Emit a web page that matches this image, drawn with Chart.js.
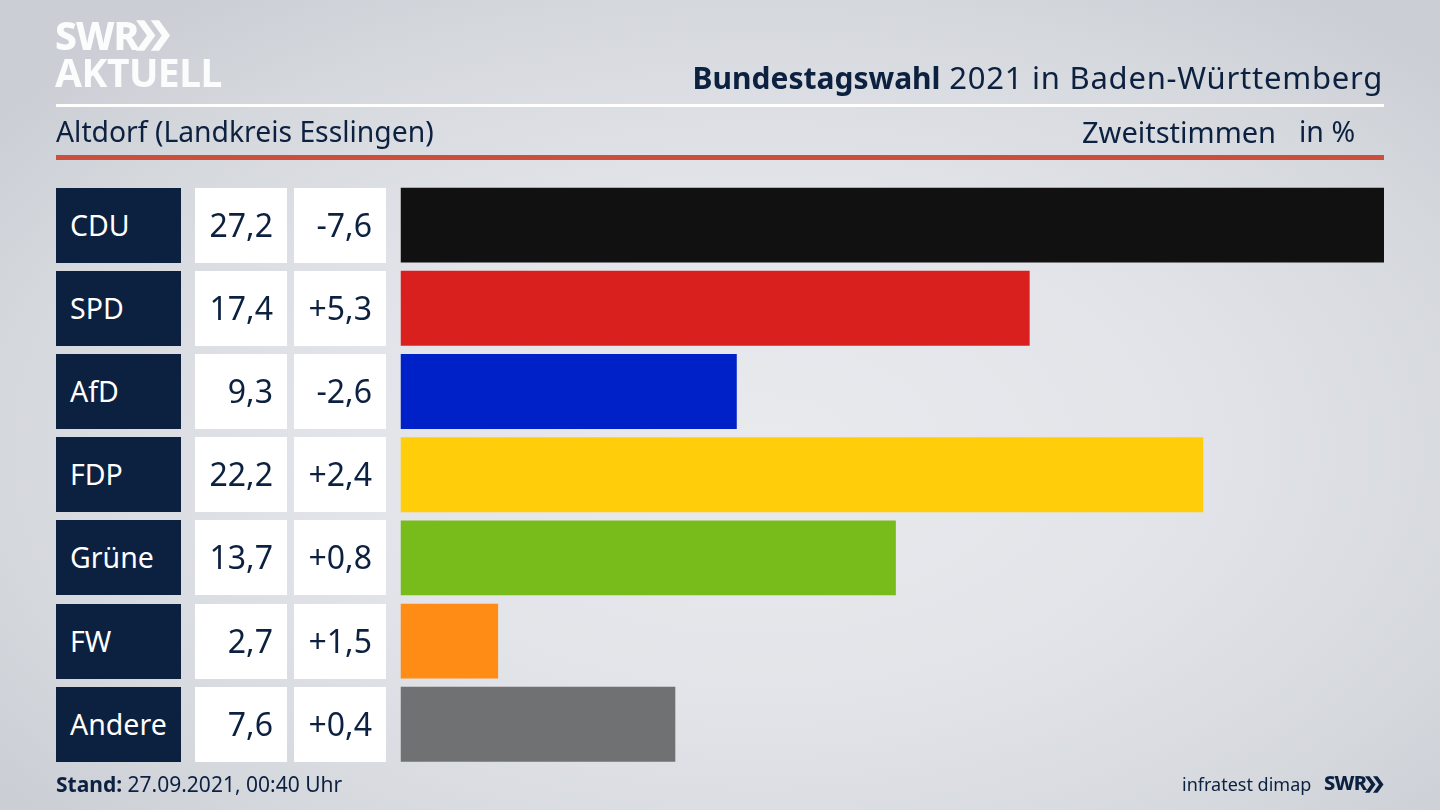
<!DOCTYPE html>
<html lang="de"><head><meta charset="utf-8">
<script src="https://cdn.jsdelivr.net/npm/chart.js@4"></script>
<style>
html,body{margin:0;padding:0;width:1440px;height:810px;overflow:hidden}
body{position:relative;font-family:"Noto Sans",sans-serif;color:#0c2040;
background:radial-gradient(ellipse 950px 560px at 760px 450px,#e8eaee 0%,#e2e4e9 45%,#d5d8dd 80%,#cbced4 100%)}
canvas{position:absolute;left:0;top:0}
.t{position:absolute;white-space:nowrap;line-height:1}
.r{position:absolute;height:75px;line-height:74px;box-sizing:border-box;white-space:nowrap;font-size:32px}
.party{left:56px;width:125px;background:#0c2040;color:#fff;padding-left:14px;font-size:28.5px}
.val{left:195px;width:92px;background:#fff;text-align:right;padding-right:14px;color:#0c2040}
.chg{left:294px;width:92px;background:#fff;text-align:right;padding-right:14px;color:#0c2040}
.rule{position:absolute;left:56px;width:1328px}
</style></head><body>
<canvas id="c" width="1440" height="810"></canvas>
<div class="t" style="left:55px;top:15px;font-size:39px;font-weight:800;color:#fbfcfc;letter-spacing:-1.2px">SWR</div>
<svg style="position:absolute;left:136px;top:19px" width="35" height="33" viewBox="0 0 38 33"><path d="M0 0h9l12 16.5L9 33H0l12-16.5zM16 0h9l12 16.5L25 33h-9l12-16.5z" fill="#fbfcfc"/></svg>
<div class="t" style="left:55px;top:52px;font-size:39px;font-weight:700;color:#fbfcfc;letter-spacing:-.5px">AKTUELL</div>
<div class="t" style="right:57px;top:62px;font-size:31px;letter-spacing:.75px"><b style="letter-spacing:0;font-size:30px">Bundestagswahl</b> 2021 in Baden-Württemberg</div>
<div class="rule" style="top:104px;height:3px;background:#fff"></div>
<div class="t" style="left:56px;top:117px;font-size:28.3px">Altdorf (Landkreis Esslingen)</div>
<div class="t" style="left:1082px;top:117px;font-size:29px">Zweitstimmen</div>
<div class="t" style="left:1299px;top:117px;font-size:28.5px">in %</div>
<div class="rule" style="top:155px;height:5px;background:#cc4e3d"></div>
<div class="t" style="left:56px;top:774px;font-size:21px"><b>Stand:</b> 27.09.2021, 00:40 Uhr</div>
<div class="t" style="left:1182px;top:775px;font-size:18px">infratest dimap</div>
<div class="t" style="left:1324px;top:773px;font-size:20px;font-weight:800;letter-spacing:-.8px">SWR</div>
<svg style="position:absolute;left:1365px;top:776px" width="19" height="17" viewBox="0 0 38 33"><path d="M0 0h9l12 16.5L9 33H0l12-16.5zM16 0h9l12 16.5L25 33h-9l12-16.5z" fill="#0c2040"/></svg>
<script>
const parties = ["CDU","SPD","AfD","FDP","Grüne","FW","Andere"];
const shares = [27.2,17.4,9.3,22.2,13.7,2.7,7.6];
const changes = ["-7,6","+5,3","-2,6","+2,4","+0,8","+1,5","+0,4"];
const barColors = ["#111111","#d9201f","#0021c7","#ffcd0a","#78bc1b","#ff8c14","#707173"];
Chart.defaults.animation = false;
const chart = new Chart(document.getElementById("c"),{
  type:"bar",
  data:{labels:parties,datasets:[{data:shares,backgroundColor:barColors,borderWidth:0,barPercentage:0.9,categoryPercentage:1}]},
  options:{indexAxis:"y",responsive:false,devicePixelRatio:1,
    layout:{padding:{left:400.5,right:56,top:183.5,bottom:44.1}},
    plugins:{legend:{display:false},tooltip:{enabled:false},title:{display:false}},
    scales:{x:{display:false,min:0,max:27.2},y:{display:false}}}
});
const yScale = chart.scales.y;
parties.forEach((p,i)=>{
  const top = yScale.getPixelForValue(i)-37.5;
  [["party",p],["val",shares[i].toFixed(1).replace(".",",")],["chg",changes[i]]].forEach(([cls,txt])=>{
    const d=document.createElement("div");d.className="r "+cls;d.style.top=top+"px";d.textContent=txt;document.body.appendChild(d);
  });
});
</script>
</body></html>
